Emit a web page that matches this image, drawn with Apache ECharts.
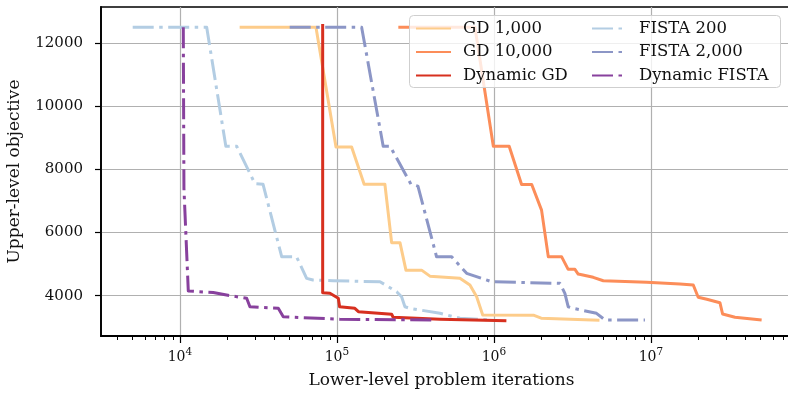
<!DOCTYPE html>
<html>
<head>
<meta charset="utf-8">
<script src="https://cdn.jsdelivr.net/npm/echarts@6/dist/echarts.min.js"></script>
<style>
html,body{margin:0;padding:0;background:#fff;}
#c{width:788px;height:393px;}
</style>
</head>
<body>
<div id="c"></div>
<script>
// ---- data ----
const seriesNames = ['GD 1,000', 'GD 10,000', 'Dynamic GD', 'FISTA 200', 'FISTA 2,000', 'Dynamic FISTA'];

const gd1000X = [24000, 73500, 98600, 124000, 149000, 202000, 223000, 252000, 275000, 346000, 391000, 607000, 703000, 776000, 848000, 1800000, 2000000, 4700000];
const gd1000Y = [12500, 12500, 8710, 8710, 7530, 7530, 5680, 5680, 4810, 4810, 4620, 4550, 4340, 3970, 3390, 3380, 3290, 3220];

const gd10000X = [246000, 757000, 991000, 1250000, 1500000, 1740000, 2010000, 2220000, 2700000, 2970000, 3280000, 3440000, 4290000, 4970000, 9400000, 15300000, 18600000, 20000000, 22700000, 27500000, 28600000, 34300000, 50700000];
const gd10000Y = [12500, 12500, 8730, 8730, 7520, 7520, 6710, 5230, 5230, 4835, 4835, 4686, 4582, 4475, 4424, 4370, 4338, 3950, 3887, 3780, 3422, 3317, 3232];

const dynGdX = [81100, 81100, 90200, 102000, 104000, 130000, 137000, 223000, 228000, 453000, 1200000];
const dynGdY = [12600, 4095, 4076, 3918, 3652, 3602, 3494, 3412, 3317, 3254, 3210];

const fista200X = [5000, 14800, 19600, 23000, 30000, 33800, 44500, 55300, 64100, 70300, 94400, 188000, 240000, 258000, 271000, 292000, 453000, 607000, 944000];
const fista200Y = [12500, 12500, 8730, 8730, 7550, 7530, 5230, 5230, 4550, 4500, 4475, 4443, 4127, 3968, 3652, 3600, 3443, 3285, 3232];

const fista2000X = [50000, 143600, 197000, 218000, 296000, 328000, 431000, 538000, 670000, 966000, 2630000, 2830000, 2970000, 3200000, 4500000, 5100000, 9160000];
const fista2000Y = [12500, 12500, 8734, 8734, 7530, 7470, 5233, 5233, 4708, 4443, 4392, 4076, 3652, 3602, 3443, 3232, 3232];

const dynFistaX = [10500, 10600, 11300, 16300, 19800, 26600, 27900, 42300, 45500, 104500, 420000];
const dynFistaY = [12500, 7400, 4150, 4100, 4022, 3918, 3652, 3602, 3336, 3254, 3230];

const xMajorTicks = [1e4, 1e5, 1e6, 1e7];
const xMinorMultipliers = [2, 3, 4, 5, 6, 7, 8, 9];
const xMinorDecades = [1e3, 1e4, 1e5, 1e6, 1e7];
const yTicks = [4000, 6000, 8000, 10000, 12000];

const xMin = 3141, xMax = 8.9e7, yMin = 2725, yMax = 13140;

// ---- build ----
function pairs(xs, ys) { return xs.map((x, i) => [x, ys[i]]); }
const xMinorTicks = [];
xMinorDecades.forEach(d => xMinorMultipliers.forEach(m => { const v = d * m; if (v > xMin && v < xMax) xMinorTicks.push(v); }));

const FONT = 'DejaVu Serif';
const TXT = '#111';
const dashDot = [21, 5.5, 3.5, 5.5];

const specs = [
  { name: seriesNames[0], xs: gd1000X, ys: gd1000Y, color: '#fdcc8a', dash: 'solid' },
  { name: seriesNames[1], xs: gd10000X, ys: gd10000Y, color: '#fc8d59', dash: 'solid' },
  { name: seriesNames[3], xs: fista200X, ys: fista200Y, color: '#b3cde3', dash: dashDot },
  { name: seriesNames[4], xs: fista2000X, ys: fista2000Y, color: '#8c96c6', dash: dashDot },
  { name: seriesNames[2], xs: dynGdX, ys: dynGdY, color: '#d7301f', dash: 'solid' },
  { name: seriesNames[5], xs: dynFistaX, ys: dynFistaY, color: '#88419d', dash: dashDot }
];

const series = specs.map(s => ({
  name: s.name,
  type: 'line',
  xAxisIndex: 0,
  yAxisIndex: 0,
  data: pairs(s.xs, s.ys),
  showSymbol: false,
  symbol: 'none',
  color: s.color,
  z: 2,
  lineStyle: { color: s.color, width: 3, type: s.dash, join: 'round' },
  emphasis: { disabled: true },
  animation: false
}));
// invisible helper series for the minor-tick axis
series.push({ type: 'line', xAxisIndex: 1, yAxisIndex: 0, data: [], silent: true });

function pow10Label(v) {
  const e = Math.log10(v);
  const r = Math.round(e);
  if (Math.abs(e - r) > 1e-6) return '';
  return '{b|10}{s|' + r + '}';
}

const legendCommon = {
  orient: 'vertical',
  top: 20,
  padding: 0,
  itemWidth: 35,
  itemHeight: 14,
  itemGap: 6.5,
  selectedMode: false,
  itemStyle: { opacity: 0 },
  textStyle: { fontFamily: FONT, fontSize: 16.5, color: TXT, lineHeight: 16, padding: [0, 0, 0, 7] },
  z: 6
};

const option = {
  animation: false,
  backgroundColor: '#fff',
  grid: { left: 101, top: 7, width: 699, bottom: 57, outerBoundsMode: 'none', containLabel: false, show: true, borderColor: '#000', borderWidth: 1.4, backgroundColor: 'transparent' },
  legend: [
    Object.assign({}, legendCommon, { left: 415, data: [seriesNames[0], seriesNames[1], seriesNames[2]] }),
    Object.assign({}, legendCommon, { left: 591, data: [seriesNames[3], seriesNames[4], seriesNames[5]] })
  ],
  graphic: {
    z: 4,
    zlevel: 0,
    elements: [{
      type: 'rect', z: 4,
      shape: { x: 409.5, y: 15.5, width: 371, height: 72, r: 4 },
      style: { fill: 'rgba(255,255,255,0.8)', stroke: '#cfcfcf', lineWidth: 1 }
    }]
  },
  xAxis: [{
    type: 'log', logBase: 10, min: xMin, max: xMax,
    name: 'Lower-level problem iterations',
    nameLocation: 'middle', nameGap: 36,
    nameTextStyle: { fontFamily: FONT, fontSize: 17, color: TXT, padding: [0, 18, 0, 0] },
    axisLine: { show: true, lineStyle: { color: '#000', width: 1.8 } },
    axisTick: { show: true, inside: false, length: 7, customValues: xMajorTicks, lineStyle: { color: '#000', width: 1.2 } },
    axisLabel: {
      customValues: xMajorTicks, margin: 11, color: TXT, fontFamily: FONT,
      formatter: pow10Label,
      rich: {
        b: { fontFamily: FONT, fontSize: 14, lineHeight: 20, color: TXT },
        s: { fontFamily: FONT, fontSize: 10.5, verticalAlign: 'top', lineHeight: 12, color: TXT }
      }
    },
    splitLine: { show: true, lineStyle: { color: '#b0b0b0', width: 1.2 } },
    minorTick: { show: false },
    z: 1
  }, {
    type: 'log', logBase: 10, min: xMin, max: xMax, position: 'bottom', gridIndex: 0,
    axisLine: { show: false },
    axisTick: { show: true, inside: false, length: 4, customValues: xMinorTicks, lineStyle: { color: '#000', width: 1 } },
    axisLabel: { show: false },
    splitLine: { show: false }
  }],
  yAxis: [{
    type: 'value', min: yMin, max: yMax,
    name: 'Upper-level objective',
    nameLocation: 'middle', nameGap: 78, nameRotate: 90,
    nameTextStyle: { fontFamily: FONT, fontSize: 17, color: TXT },
    axisLine: { show: true, lineStyle: { color: '#000', width: 1.8 } },
    axisTick: { show: true, inside: false, length: 6, customValues: yTicks, lineStyle: { color: '#000', width: 1.2 } },
    axisLabel: { customValues: yTicks, margin: 18, fontFamily: FONT, fontSize: 15, color: TXT, formatter: v => String(v) },
    splitLine: { show: true, lineStyle: { color: '#b0b0b0', width: 1.2 } }
  }],
  series: series
};

const chart = echarts.init(document.getElementById('c'), null, { renderer: 'canvas' });
chart.setOption(option);
</script>
</body>
</html>
